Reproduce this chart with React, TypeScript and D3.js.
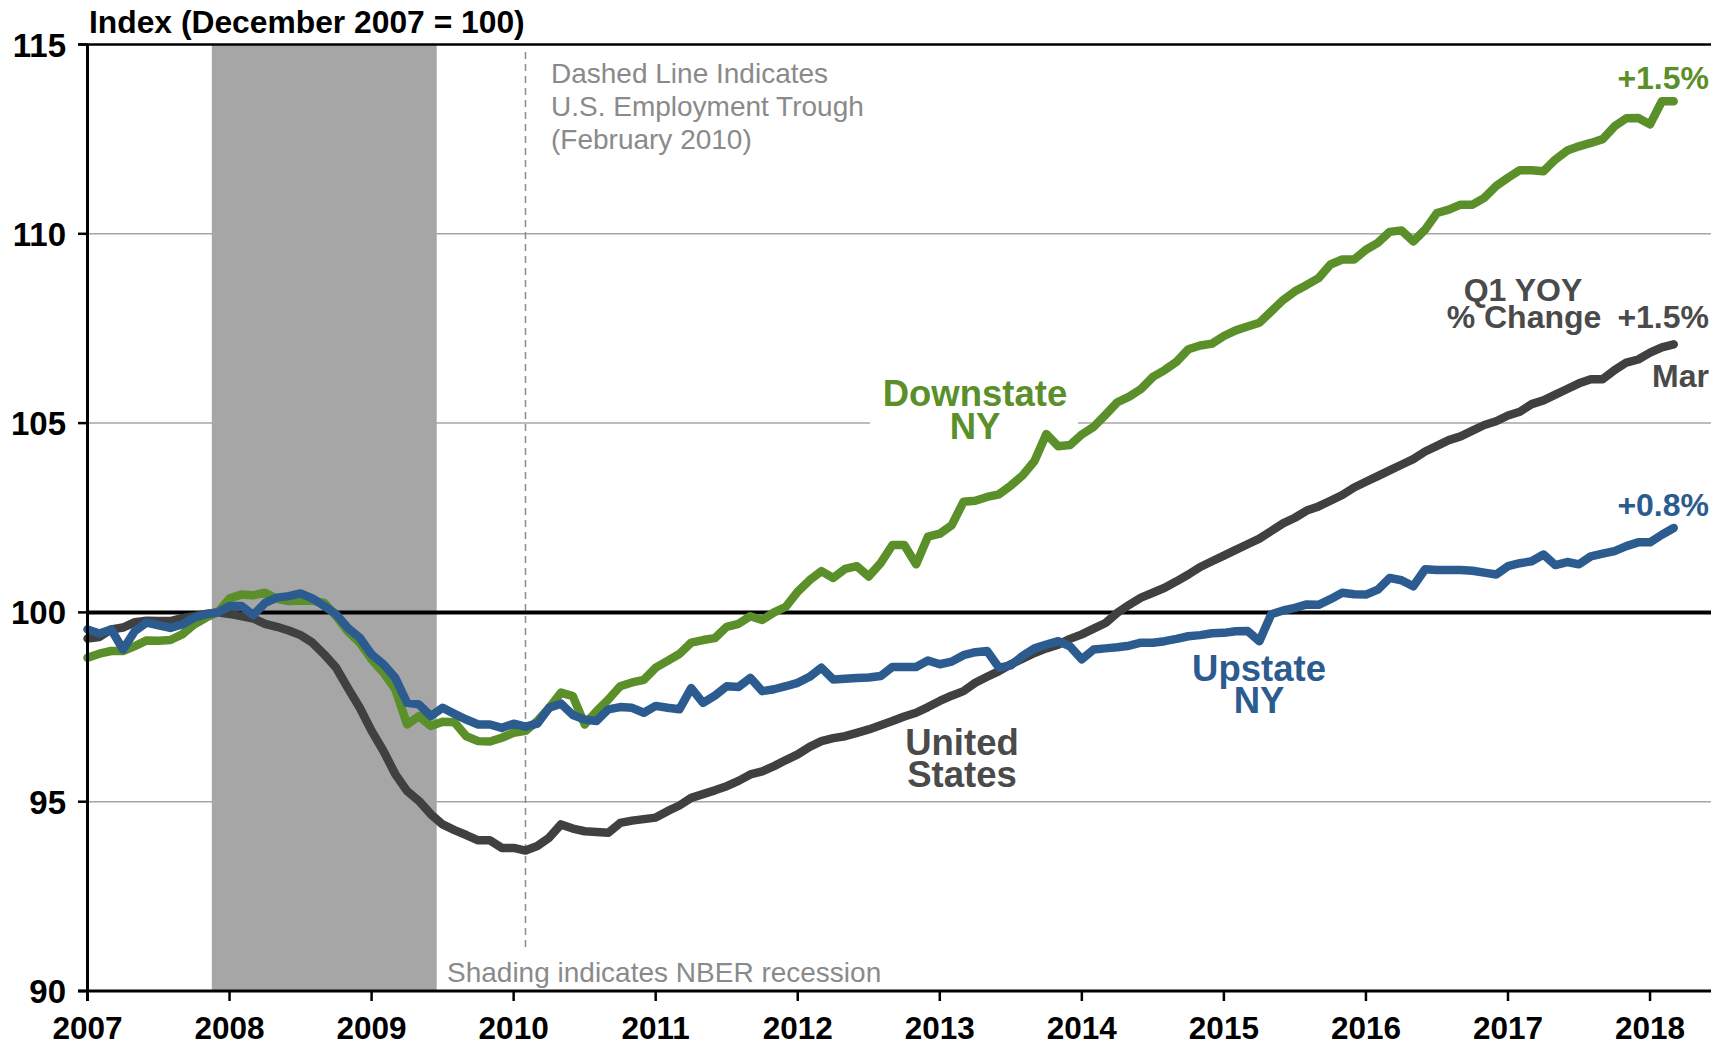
import React from "react";
import * as d3 from "d3";

// monthly index, Jan 2007 .. Mar 2018 (Dec 2007 = 100)
const startYear = 2007;
const yearTicks = [2007, 2008, 2009, 2010, 2011, 2012, 2013, 2014, 2015, 2016, 2017, 2018];
const yTicks = [90, 95, 100, 105, 110, 115];

const downstate = [
  98.8, 98.91, 98.98, 98.98, 99.11, 99.26, 99.25, 99.27, 99.42, 99.68, 99.86, 100.0,
  100.37, 100.47, 100.45, 100.52, 100.36, 100.3, 100.31, 100.31, 100.25, 99.9, 99.5, 99.2,
  98.76, 98.41, 97.97, 97.04, 97.26, 97.0, 97.11, 97.1, 96.73, 96.6, 96.59, 96.69,
  96.82, 96.87, 97.13, 97.48, 97.88, 97.79, 97.04, 97.39, 97.7, 98.05, 98.15, 98.22,
  98.54, 98.72, 98.9, 99.2, 99.27, 99.32, 99.62, 99.7, 99.9, 99.8, 100.0, 100.15,
  100.55, 100.85, 101.09, 100.91, 101.15, 101.22, 100.95, 101.3, 101.78, 101.78, 101.27, 102.0,
  102.08, 102.3, 102.92, 102.95, 103.05, 103.12, 103.35, 103.62, 104.0, 104.71, 104.39, 104.42,
  104.7, 104.9, 105.22, 105.55, 105.7, 105.9, 106.22, 106.4, 106.62, 106.95, 107.05, 107.1,
  107.3, 107.45, 107.55, 107.65, 107.95, 108.25, 108.48, 108.65, 108.83, 109.19, 109.32, 109.32,
  109.58, 109.76, 110.05, 110.09, 109.8, 110.11, 110.55, 110.64, 110.77, 110.77, 110.95, 111.26,
  111.48, 111.68, 111.68, 111.65, 111.96, 112.2, 112.31, 112.4, 112.5, 112.84, 113.05, 113.06,
  112.89, 113.5, 113.5,
];

const upstate = [
  99.55, 99.44, 99.55, 99.02, 99.51, 99.73, 99.66, 99.59, 99.68, 99.86, 99.95, 100.0,
  100.17, 100.17, 99.93, 100.25, 100.39, 100.43, 100.5, 100.37, 100.17, 99.95, 99.59, 99.33,
  98.89, 98.63, 98.27, 97.61, 97.57, 97.26, 97.48, 97.32, 97.17, 97.04, 97.04, 96.95,
  97.06, 96.98, 97.06, 97.48, 97.59, 97.29, 97.17, 97.13, 97.44, 97.5, 97.48, 97.35,
  97.53, 97.48, 97.44, 98.0, 97.61, 97.8, 98.05, 98.03, 98.27, 97.92, 97.97, 98.05,
  98.14, 98.3, 98.54, 98.23, 98.25, 98.27, 98.28, 98.32, 98.56, 98.56, 98.56, 98.73,
  98.63, 98.7, 98.87, 98.95, 98.98, 98.54, 98.6, 98.85, 99.05, 99.15, 99.24, 99.1,
  98.76, 99.02, 99.05, 99.08, 99.12, 99.2, 99.2, 99.24, 99.3, 99.37, 99.4, 99.45,
  99.46, 99.5, 99.51, 99.24, 99.95, 100.05, 100.12, 100.21, 100.2, 100.35, 100.52, 100.48,
  100.47, 100.6, 100.91, 100.85, 100.69, 101.14, 101.12, 101.12, 101.12, 101.1, 101.05, 101.0,
  101.22, 101.3, 101.35, 101.53, 101.25, 101.33, 101.27, 101.48, 101.55, 101.62, 101.75, 101.85,
  101.85, 102.05, 102.23,
];

const unitedStates = [
  99.31, 99.35, 99.55, 99.6, 99.74, 99.78, 99.77, 99.77, 99.85, 99.9, 99.96, 100.0,
  99.96, 99.9, 99.84, 99.7, 99.62, 99.52, 99.4, 99.2, 98.89, 98.54, 98.0, 97.48,
  96.87, 96.34, 95.73, 95.28, 95.02, 94.67, 94.4, 94.25, 94.12, 93.98, 93.98, 93.78,
  93.78, 93.71, 93.83, 94.05, 94.4, 94.29, 94.22, 94.2, 94.18, 94.44, 94.5, 94.54,
  94.58, 94.75, 94.9, 95.1, 95.2, 95.3, 95.41, 95.55, 95.72, 95.8, 95.94, 96.1,
  96.25, 96.45, 96.6, 96.68, 96.73, 96.82, 96.91, 97.02, 97.13, 97.25, 97.35, 97.5,
  97.66, 97.8, 97.92, 98.14, 98.3, 98.45, 98.63, 98.78, 98.93, 99.05, 99.15, 99.3,
  99.42, 99.57, 99.72, 99.99, 100.2, 100.39, 100.52, 100.65, 100.82, 101.0, 101.2, 101.35,
  101.5, 101.65, 101.8, 101.95, 102.15, 102.35, 102.5, 102.69, 102.8, 102.95, 103.1, 103.3,
  103.45, 103.6, 103.75, 103.9, 104.05, 104.25, 104.4, 104.55, 104.65, 104.8, 104.95, 105.05,
  105.2, 105.3, 105.5, 105.6, 105.75, 105.9, 106.05, 106.16, 106.16, 106.4, 106.6, 106.68,
  106.86, 107.0, 107.08,
];

// NBER recession Dec 2007 - Jun 2009, US trough Feb 2010 (month index from Jan 2007)
const recession = [11, 29];
const troughMonth = 37;

const GREEN = "#5b8f29";
const BLUE = "#2c5c8f";
const DARK = "#404040";
const GRAY_TXT = "#8a8a8a";
const FONT = "'Liberation Sans', Arial, Helvetica, sans-serif";

const W = 1711;
const H = 1045;

export default function App() {
  const x = d3.scaleLinear().domain([0, 137.15]).range([87.5, W]);
  const y = d3.scaleLinear().domain([90, 115]).range([991, 44.5]);

  const line = d3
    .line<number>()
    .x((d, i) => x(i))
    .y((d) => y(d));

  const yr = (year: number) => x((year - startYear) * 12);

  return (
    <svg
      width={W}
      height={H}
      style={{ position: "absolute", left: 0, top: 0, background: "#fff" }}
      fontFamily={FONT}
    >
      {/* gridlines */}
      {[95, 105, 110].map((t) => (
        <line key={t} x1={x(0)} x2={W} y1={y(t)} y2={y(t)} stroke="#a6a6a6" strokeWidth={1.5} />
      ))}

      {/* recession shading */}
      <rect
        x={x(recession[0] - 0.5)}
        y={y(115)}
        width={x(recession[1] + 0.5) - x(recession[0] - 0.5)}
        height={y(90) - y(115)}
        fill="#a6a6a6"
      />

      {/* trough marker */}
      <line
        x1={x(troughMonth)}
        x2={x(troughMonth)}
        y1={y(114.8)}
        y2={y(91.1)}
        stroke="#8c8c8c"
        strokeWidth={1.5}
        strokeDasharray="7,5"
      />

      {/* white box behind Downstate label */}
      <rect x={870} y={375} width={208} height={72} fill="#fff" />

      {/* 100 line */}
      <line x1={x(0)} x2={W} y1={y(100)} y2={y(100)} stroke="#000" strokeWidth={4} />

      {/* series */}
      <path d={line(unitedStates) ?? ""} fill="none" stroke={DARK} strokeWidth={8.5} strokeLinejoin="round" strokeLinecap="round" />
      <path d={line(downstate) ?? ""} fill="none" stroke={GREEN} strokeWidth={8.5} strokeLinejoin="round" strokeLinecap="round" />
      <path d={line(upstate) ?? ""} fill="none" stroke={BLUE} strokeWidth={8.5} strokeLinejoin="round" strokeLinecap="round" />

      {/* axes */}
      <line x1={78} x2={W} y1={y(115)} y2={y(115)} stroke="#000" strokeWidth={2.5} />
      <line x1={78} x2={W} y1={y(90)} y2={y(90)} stroke="#000" strokeWidth={3} />
      <line x1={x(0)} x2={x(0)} y1={y(115)} y2={y(90) + 10} stroke="#000" strokeWidth={3} />
      {yTicks.map((t) => (
        <g key={t}>
          <line x1={78} x2={x(0)} y1={y(t)} y2={y(t)} stroke="#000" strokeWidth={2.5} />
          <text x={66} y={y(t) + 12} textAnchor="end" fontSize={33} fontWeight="bold" fill="#000">
            {t}
          </text>
        </g>
      ))}
      {yearTicks.map((yy) => (
        <g key={yy}>
          <line x1={yr(yy)} x2={yr(yy)} y1={y(90)} y2={y(90) + 10} stroke="#000" strokeWidth={2.5} />
          <text x={yr(yy)} y={1039} textAnchor="middle" fontSize={31.5} fontWeight="bold" fill="#000">
            {yy}
          </text>
        </g>
      ))}

      {/* title */}
      <text x={89} y={33} fontSize={31.8} fontWeight="bold" fill="#000">
        Index (December 2007 = 100)
      </text>

      {/* annotations */}
      <g fontSize={28} fill={GRAY_TXT}>
        <text x={551} y={83}>Dashed Line Indicates</text>
        <text x={551} y={116}>U.S. Employment Trough</text>
        <text x={551} y={149}>(February 2010)</text>
        <text x={447} y={982}>Shading indicates NBER recession</text>
      </g>

      {/* series labels */}
      <g fontWeight="bold" fontSize={36.5} textAnchor="middle">
        <text x={975} y={406} fill={GREEN}>Downstate</text>
        <text x={975} y={439} fill={GREEN}>NY</text>
        <text x={1259} y={681} fill={BLUE}>Upstate</text>
        <text x={1259} y={713} fill={BLUE}>NY</text>
        <text x={962} y={755} fill="#4a4a4a">United</text>
        <text x={962} y={787} fill="#4a4a4a">States</text>
      </g>

      {/* yoy labels */}
      <g fontWeight="bold" fontSize={32}>
        <text x={1709} y={89} textAnchor="end" fill={GREEN}>+1.5%</text>
        <text x={1523} y={301} textAnchor="middle" fill="#4a4a4a">Q1 YOY</text>
        <text x={1524} y={328} textAnchor="middle" fill="#4a4a4a">% Change</text>
        <text x={1709} y={328} textAnchor="end" fill="#4a4a4a">+1.5%</text>
        <text x={1709} y={387} textAnchor="end" fill="#4a4a4a">Mar</text>
        <text x={1709} y={516} textAnchor="end" fill={BLUE}>+0.8%</text>
      </g>
    </svg>
  );
}
